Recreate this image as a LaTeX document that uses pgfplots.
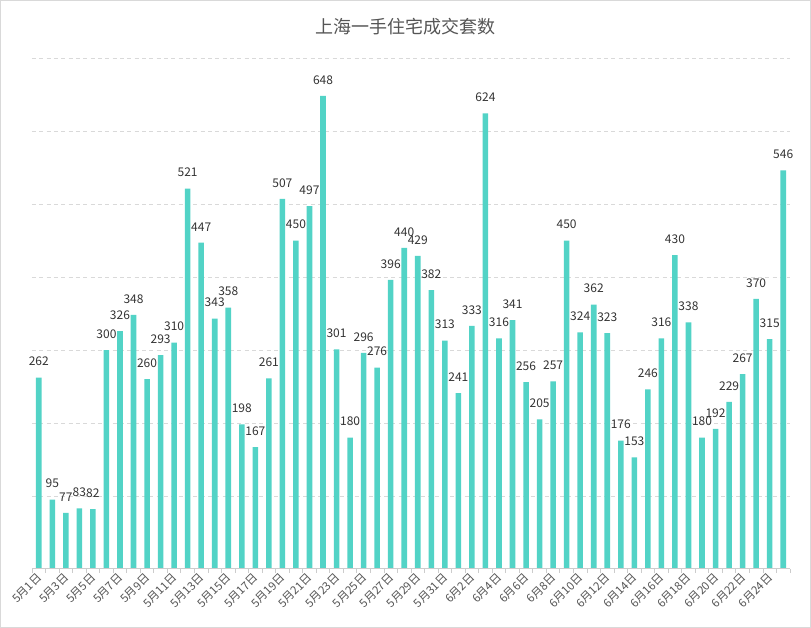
\documentclass[border=0pt]{standalone}
\usepackage{pgfplots}
\pgfplotsset{compat=1.18}
\usepackage{fontspec}
\setmainfont{Noto Sans CJK SC}
\definecolor{barc}{HTML}{52D3C6}
\definecolor{gridc}{HTML}{D9D9D9}
\definecolor{axc}{HTML}{CCCCCC}
\definecolor{txt}{HTML}{333333}
\definecolor{tick}{HTML}{555555}
\begin{document}
\begin{tikzpicture}
\useasboundingbox (0,0) rectangle (608.25pt,471pt);
\draw[gridc, line width=0.75pt] (0.375pt,0.375pt) rectangle (607.875pt,470.625pt);
\node[font=\fontsize{13.5}{15}\selectfont, text=tick] at (303.75pt,450.75pt) {上海一手住宅成交套数};
\begin{axis}[
  at={(24pt,44.25pt)}, anchor=south west,
  scale only axis, width=568.5pt, height=383.25pt,
  xmin=-0.5, xmax=55.5, ymin=0, ymax=700,
  axis line style={draw=none},
  ybar, bar width=4.2pt,
  ytick={100,200,...,700}, yticklabels={}, ytick style={draw=none},
  ymajorgrids, major grid style={gridc, dash pattern=on 3pt off 2.5pt, line width=0.6pt},
  xtick={0,2,...,54},
  xticklabels={5月1日,5月3日,5月5日,5月7日,5月9日,5月11日,5月13日,5月15日,5月17日,5月19日,5月21日,5月23日,5月25日,5月27日,5月29日,5月31日,6月2日,6月4日,6月6日,6月8日,6月10日,6月12日,6月14日,6月16日,6月18日,6月20日,6月22日,6月24日},
  xtick pos=bottom, tick align=outside,
  major x tick style={draw=none},
  minor xtick={-0.5,0.5,...,55.5},
  minor x tick style={axc, line width=0.6pt},
  minor tick length=3pt,
  xticklabel style={rotate=45, anchor=east, font=\fontsize{8.6}{10}\selectfont, text=tick, xshift=1pt, yshift=-1pt, inner sep=1pt},
  /pgf/number format/assume math mode=true,
  nodes near coords,
  every node near coord/.append style={font=\fontsize{9}{10}\selectfont, text=txt, anchor=south, inner sep=0pt, yshift=8.5pt},
  clip=false,
]
\addplot[fill=barc, draw=none] coordinates {
(0,262) (1,95) (2,77) (3,83) (4,82) (5,300) (6,326) (7,348) (8,260) (9,293)
(10,310) (11,521) (12,447) (13,343) (14,358) (15,198) (16,167) (17,261) (18,507) (19,450)
(20,497) (21,648) (22,301) (23,180) (24,296) (25,276) (26,396) (27,440) (28,429) (29,382)
(30,313) (31,241) (32,333) (33,624) (34,316) (35,341) (36,256) (37,205) (38,257) (39,450)
(40,324) (41,362) (42,323) (43,176) (44,153) (45,246) (46,316) (47,430) (48,338) (49,180)
(50,192) (51,229) (52,267) (53,370) (54,315) (55,546)
};
\draw[axc, line width=0.75pt] (axis cs:-0.5,0) -- (axis cs:55.5,0);
\end{axis}
\end{tikzpicture}
\end{document}
